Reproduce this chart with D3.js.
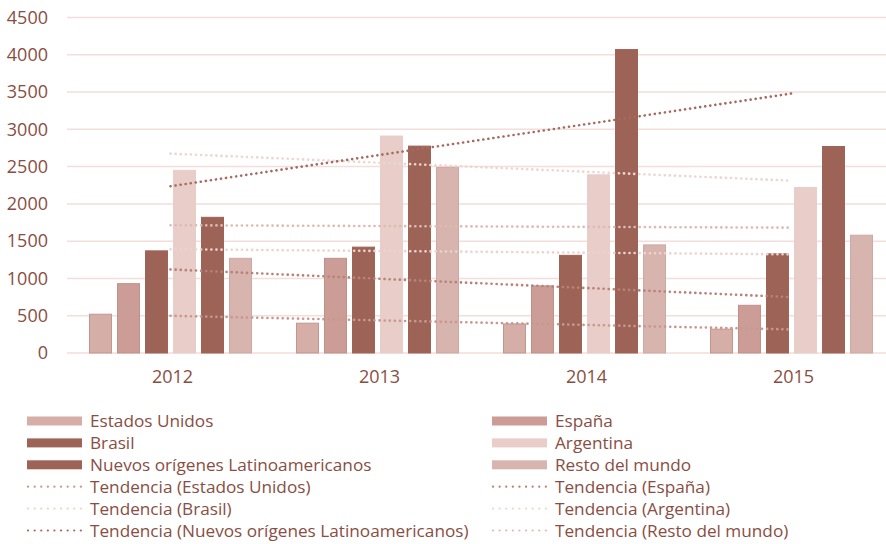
<!DOCTYPE html>
<html>
<head>
<meta charset="utf-8">
<script src="https://cdn.jsdelivr.net/npm/d3@7"></script>
<style>
  body { margin: 0; background: #fff; }
  svg { display: block; font-family: "Open Sans", "Lato", sans-serif; }
</style>
</head>
<body>
<svg id="chart"></svg>
<script>
const years = ["2012", "2013", "2014", "2015"];
const seriesNames = ["Estados Unidos", "España", "Brasil", "Argentina", "Nuevos orígenes Latinoamericanos", "Resto del mundo"];
const estadosUnidos = [520, 400, 390, 320];
const espana = [930, 1270, 900, 640];
const brasil = [1370, 1420, 1310, 1330];
const argentina = [2450, 2910, 2390, 2220];
const nuevos = [1820, 2775, 4070, 2770];
const resto = [1270, 2490, 1450, 1580];
const yTicks = [0, 500, 1000, 1500, 2000, 2500, 3000, 3500, 4000, 4500];

const values = [estadosUnidos, espana, brasil, argentina, nuevos, resto];
const barColors = ["#d6aea8", "#cb9d96", "#9e6357", "#e8cdc8", "#9e6357", "#d8b4ae"];
const barStrokes = ["#c4958d", "#c09088", "#9e6357", "#e8cdc8", "#9e6357", "#cfa8a1"];
const trendColors = ["#c89890", "#b8817a", "#ecd3cf", "#ecd6d2", "#a56a60", "#ddbab4"];

const width = 886, height = 544;
const svg = d3.select("#chart").attr("width", width).attr("height", height);
const textColor = "#894e43";
const tickSize = 18;
const legendSize = 17.2;

const x0 = d3.scaleBand().domain(years).range([67, 895]).paddingInner(0).paddingOuter(0);
const x1 = d3.scaleBand().domain(d3.range(seriesNames.length)).range([22, 185]).paddingInner(0.18);
const y = d3.scaleLinear().domain([0, 4500]).range([353, 17.5]);

// grid
svg.append("g")
    .selectAll("line")
    .data(yTicks)
    .join("line")
    .attr("x1", 67).attr("x2", width)
    .attr("y1", d => y(d)).attr("y2", d => y(d))
    .attr("stroke", "#f2dedb")
    .attr("stroke-width", 1.5);

// y axis labels
const yAxis = d3.axisLeft(y).tickValues(yTicks).tickFormat(d3.format("d")).tickSize(0).tickPadding(0);
const yg = svg.append("g").attr("transform", "translate(48,0)").call(yAxis);
yg.select(".domain").remove();
yg.selectAll("text").attr("fill", textColor).attr("font-size", tickSize).attr("font-family", "Open Sans");

// x axis labels
const xAxis = d3.axisBottom(x0).tickSize(0).tickPadding(0);
const xg = svg.append("g").attr("transform", "translate(2,370)").call(xAxis);
xg.select(".domain").remove();
xg.selectAll("text").attr("fill", textColor).attr("font-size", tickSize).attr("font-family", "Open Sans");

// bars
const groups = svg.append("g")
    .selectAll("g")
    .data(years)
    .join("g")
    .attr("transform", d => `translate(${x0(d)},0)`);

groups.selectAll("rect")
    .data((yr, i) => values.map((s, k) => ({ k, v: s[i] })))
    .join("rect")
    .attr("x", d => x1(d.k) + 0.5)
    .attr("y", d => y(d.v))
    .attr("width", x1.bandwidth() - 1)
    .attr("height", d => y(0) - y(d.v))
    .attr("fill", d => barColors[d.k])
    .attr("stroke", d => barStrokes[d.k])
    .attr("stroke-width", 1);

// linear trendlines (least squares on category index)
function trend(vals) {
    const xs = vals.map((_, i) => i + 1);
    const mx = d3.mean(xs), my = d3.mean(vals);
    const slope = d3.sum(xs, (xv, i) => (xv - mx) * (vals[i] - my)) / d3.sum(xs, xv => (xv - mx) ** 2);
    const b = my - slope * mx;
    return [1, xs.length].map(xv => ({ yr: years[xv - 1], v: b + slope * xv }));
}
const center = yr => x0(yr) + x1(0) + (x1(seriesNames.length - 1) + x1.bandwidth() - x1(0)) / 2;

const line = d3.line().x(d => center(d.yr)).y(d => y(d.v));
svg.append("g")
    .selectAll("path")
    .data(values.map((s, k) => ({ k, pts: trend(s) })))
    .join("path")
    .attr("d", d => line(d.pts))
    .attr("fill", "none")
    .attr("stroke", d => trendColors[d.k])
    .attr("stroke-width", 2.6)
    .attr("stroke-linecap", "round")
    .attr("stroke-dasharray", "0.1,5");

// legend
const legendTop = 421, legendStep = 21.9;
const legendCols = [27, 492];
const legendItems = [];
seriesNames.forEach((n, k) => legendItems.push({ label: n, k, type: "bar" }));
seriesNames.forEach((n, k) => legendItems.push({ label: `Tendencia (${n})`, k, type: "trend" }));

const leg = svg.append("g")
    .selectAll("g")
    .data(legendItems)
    .join("g")
    .attr("transform", (d, i) => `translate(${legendCols[i % 2]},${legendTop + legendStep * Math.floor(i / 2)})`);

leg.filter(d => d.type === "bar")
    .append("rect")
    .attr("x", 0).attr("y", -4.5)
    .attr("width", 55).attr("height", 9)
    .attr("fill", d => barColors[d.k]);

leg.filter(d => d.type === "trend")
    .append("line")
    .attr("x1", 1).attr("x2", 55)
    .attr("y1", 0).attr("y2", 0)
    .attr("stroke", d => trendColors[d.k])
    .attr("stroke-width", 2.2)
    .attr("stroke-linecap", "round")
    .attr("stroke-dasharray", "0.1,6.5");

leg.append("text")
    .attr("x", 63)
    .attr("dy", "0.35em")
    .attr("fill", textColor)
    .attr("font-size", legendSize)
    .text(d => d.label);
</script>
</body>
</html>
